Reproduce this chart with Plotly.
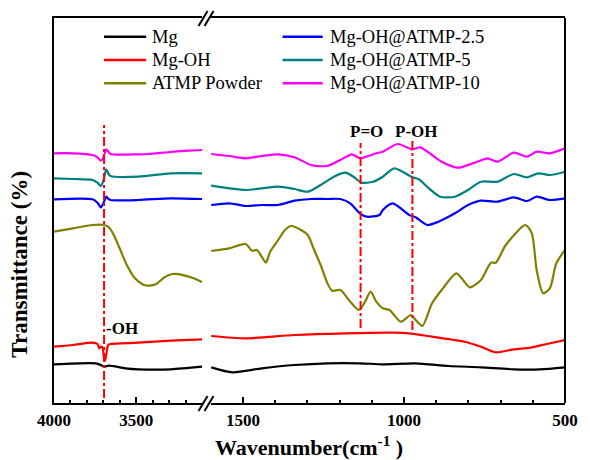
import plotly.graph_objects as go

# ---------------- data (wavenumber, transmittance in arbitrary units) ----------------
black_L_wn = [4000, 3746, 3716, 3696, 3667, 3567, 3488, 3290, 3100]
black_L_T = [38.7, 39.7, 38, 36.3, 37.3, 34.7, 33.7, 33.7, 36.3]
black_R_wn = [1599, 1533, 1442, 1340, 1238, 1137, 1066, 964, 862, 761, 659, 578, 500]
black_R_T = [35.7, 30.7, 34.7, 38, 39.7, 39.7, 38.7, 39.7, 37, 35.7, 33.7, 33.7, 35.7]

red_L_wn = [4000, 3885, 3766, 3736, 3726, 3716, 3706, 3696, 3690, 3683, 3671, 3657, 3488, 3290, 3100]
red_L_T = [56.3, 58, 60.3, 59, 54.7, 56.3, 55.7, 44.7, 42.3, 48, 58, 59, 60.3, 62.3, 63.7]
red_R_wn = [1599, 1492, 1340, 1182, 1035, 984, 913, 812, 761, 715, 659, 608, 557, 500]
red_R_T = [67, 64.7, 68, 69.7, 70.3, 69.7, 66.3, 61.3, 56.3, 50.7, 53.7, 55.3, 59, 63]

olive_L_wn = [4000, 3885, 3766, 3696, 3667, 3637, 3597, 3558, 3508, 3458, 3419, 3379, 3329, 3280, 3210, 3151, 3100]
olive_L_T = [171.3, 174.7, 178, 178, 175.7, 168, 153, 138, 124.7, 118.3, 117.3, 119, 125.7, 129, 127.7, 124.7, 120.7]
olive_R_wn = [1599, 1543, 1492, 1472, 1457, 1442, 1429, 1416, 1391, 1370, 1350, 1320, 1299, 1279, 1259,
              1238, 1223, 1198, 1167, 1140, 1121, 1104, 1086, 1066, 1045, 1010, 979, 964, 943, 913,
              883, 837, 796, 761, 730, 715, 684, 623, 603, 588, 568, 547, 527, 500]
olive_R_T = [152, 154.7, 159, 152.3, 153, 146.3, 140.3, 151.3, 163, 173, 177, 173, 168, 153, 138,
             119.7, 112.3, 113, 101.3, 93, 101.3, 111.3, 101.3, 94.7, 93, 81.3, 88, 83, 77, 99.7,
             113, 129.7, 115.7, 123, 140.3, 140.3, 158, 178, 169.7, 133, 109.7, 114.7, 139.7, 153]

blue_L_wn = [4000, 3766, 3736, 3716, 3702, 3692, 3681, 3671, 3657, 3488, 3290, 3100]
blue_L_T = [203.7, 203.7, 200.3, 195.7, 199, 203, 206.3, 204.3, 203, 203, 204.7, 204]
blue_R_wn = [1599, 1543, 1492, 1442, 1391, 1340, 1289, 1238, 1198, 1167, 1137, 1116, 1076, 1066,
             1035, 984, 964, 928, 893, 842, 801, 761, 710, 659, 618, 588, 547, 500]
blue_R_T = [198, 199.7, 197, 198, 198, 202.3, 204, 204, 204, 199.7, 189.7, 186.3, 188, 193,
            199.7, 188, 185.7, 178, 181.3, 189.7, 198, 202.3, 201.3, 205.7, 202, 206.3, 203, 204.7]

teal_L_wn = [4000, 3885, 3766, 3736, 3716, 3702, 3692, 3683, 3671, 3657, 3488, 3290, 3100]
teal_L_T = [224.7, 224, 223, 220.3, 217, 221.3, 228, 233.7, 229.7, 227, 226.3, 229.7, 229.7]
teal_R_wn = [1599, 1543, 1492, 1442, 1391, 1340, 1299, 1259, 1218, 1182, 1157, 1132, 1096, 1066,
             1030, 974, 954, 923, 888, 842, 801, 761, 710, 659, 618, 583, 547, 500]
teal_R_T = [217.3, 214.7, 213, 214.7, 216.3, 214, 211.3, 218, 226.3, 230.3, 226.3, 220.3, 221.3, 226.3,
            234.7, 225.7, 223.7, 214.7, 206.3, 206.3, 213, 221.3, 221.3, 229, 225.7, 229.7, 228, 231.3]

mag_L_wn = [4000, 3885, 3766, 3736, 3716, 3702, 3692, 3683, 3671, 3657, 3488, 3429, 3290, 3190, 3100]
mag_L_T = [249.7, 249.7, 248, 245.7, 242.3, 244.7, 249.7, 253.7, 251.7, 249, 248.7, 249, 251, 252.3, 253]
mag_R_wn = [1599, 1543, 1492, 1442, 1391, 1340, 1289, 1238, 1198, 1162, 1137, 1086, 1066, 1020,
            974, 949, 913, 883, 832, 781, 740, 710, 659, 618, 588, 547, 500]
mag_R_T = [249, 247, 244.7, 247, 248.7, 245.7, 238, 237, 243, 248.7, 244.7, 249.7, 251.3, 259,
           253.7, 255.7, 248, 241.3, 235.3, 240.3, 244.7, 241.3, 250.3, 246.3, 251.3, 249.7, 254.7]

series_names = ["Mg", "Mg-OH", "ATMP Powder", "Mg-OH@ATMP-2.5", "Mg-OH@ATMP-5", "Mg-OH@ATMP-10"]
series_colors = ["#000000", "#ff0000", "#808000", "#0000ff", "#008080", "#ff00ff"]
series_left = [(black_L_wn, black_L_T), (red_L_wn, red_L_T), (olive_L_wn, olive_L_T),
               (blue_L_wn, blue_L_T), (teal_L_wn, teal_L_T), (mag_L_wn, mag_L_T)]
series_right = [(black_R_wn, black_R_T), (red_R_wn, red_R_T), (olive_R_wn, olive_R_T),
                (blue_R_wn, blue_R_T), (teal_R_wn, teal_R_T), (mag_R_wn, mag_R_T)]

# band markers: (wavenumber, T from, T to)
oh_band = (3696, 5, 278)
po_band = (1135, 75, 260)
poh_band = (974, 73, 265)

left_ticks = [4000, 3500]
right_ticks = [1500, 1000, 500]

FONT = "'Liberation Serif', 'DejaVu Serif', 'Times New Roman', serif"

# ---------------- figure ----------------
W, H = 590, 460
ML, MR, MT, MB = 54, 15, 18, 57
PW, PH = W - ML - MR, H - MT - MB


def px(xp):
    return (xp - ML) / PW


def py(yp):
    return (H - MB - yp) / PH


fig = go.Figure()
for name, color, (lx, ly), (rx, ry) in zip(series_names, series_colors, series_left, series_right):
    fig.add_trace(go.Scatter(x=lx, y=ly, mode="lines", name=name, showlegend=False,
                             line=dict(color=color, width=2.2, shape="spline", smoothing=0.7),
                             xaxis="x", yaxis="y"))
    fig.add_trace(go.Scatter(x=rx, y=ry, mode="lines", name=name, showlegend=False,
                             line=dict(color=color, width=2.2, shape="spline", smoothing=0.7),
                             xaxis="x2", yaxis="y"))

for (wn, t0, t1), xa in [(oh_band, "x"), (po_band, "x2"), (poh_band, "x2")]:
    fig.add_trace(go.Scatter(x=[wn, wn], y=[t0, t1], mode="lines", showlegend=False,
                             line=dict(color="#ff0000", width=2, dash="dashdot"),
                             xaxis=xa, yaxis="y", hoverinfo="skip"))

tickfont = dict(family=FONT, size=17, color="black", weight="bold")
axis_common = dict(showline=True, linewidth=2, linecolor="black", mirror=True,
                   ticks="inside", ticklen=6, tickwidth=2, tickcolor="black",
                   showgrid=False, zeroline=False, tickfont=tickfont,
                   ticklabelstandoff=1,
                   minor=dict(ticks="inside", ticklen=3, tickwidth=2, tickcolor="black",
                              dtick=100, tick0=0, showgrid=False))

fig.update_layout(
    width=W, height=H,
    margin=dict(l=ML, r=MR, t=MT, b=MB),
    paper_bgcolor="white", plot_bgcolor="white",
    showlegend=False,
    font=dict(family=FONT),
    xaxis=dict(domain=[0, 0.29], range=[4000, 3100], tickmode="array",
               tickvals=left_ticks, ticktext=[str(v) for v in left_ticks], anchor="y", **axis_common),
    xaxis2=dict(domain=[0.307, 1], range=[1600, 500], tickmode="array",
                tickvals=right_ticks, ticktext=[str(v) for v in right_ticks], anchor="y", **axis_common),
    yaxis=dict(range=[0, 385], showticklabels=False, ticks="", showline=True, linewidth=2,
               linecolor="black", showgrid=False, zeroline=False),
)

shapes = []
shapes.append(dict(type="line", xref="paper", yref="paper", x0=1, x1=1, y0=0, y1=1,
                   line=dict(color="black", width=2)))
gap_c = (0.29 + 0.307) / 2
for ya in (0, 1):
    for dx in (-8, -2):
        shapes.append(dict(type="line", xref="paper", yref="paper",
                           xsizemode="pixel", ysizemode="pixel",
                           xanchor=gap_c, yanchor=ya,
                           x0=dx, x1=dx + 9, y0=-8, y1=7,
                           line=dict(color="black", width=2)))
leg_rows = [36.7, 60, 83.3]
leg_cols = [(105, 148, 152), (287, 328, 333)]
annotations = []
for i, (name, color) in enumerate(zip(series_names, series_colors)):
    c = leg_cols[i // 3]
    r = leg_rows[i % 3]
    shapes.append(dict(type="line", xref="paper", yref="paper",
                       x0=px(c[0]), x1=px(c[1]), y0=py(r), y1=py(r),
                       line=dict(color=color, width=2.5)))
    annotations.append(dict(x=px(c[2]), y=py(r), xref="paper", yref="paper",
                            text=name, showarrow=False, xanchor="left", yanchor="middle",
                            font=dict(family=FONT, size=18.5, color="black")))

lab_font = dict(family=FONT, size=17, color="black", weight="bold")
annotations += [
    dict(x=3696, y=75, xref="x", yref="y", text="-OH", showarrow=False,
         xanchor="left", yanchor="middle", font=lab_font),
    dict(x=1117, y=272, xref="x2", yref="y", text="P=O", showarrow=False,
         xanchor="center", yanchor="middle", font=lab_font),
    dict(x=962, y=272, xref="x2", yref="y", text="P-OH", showarrow=False,
         xanchor="center", yanchor="middle", font=lab_font),
    dict(x=px(314), y=py(446), xref="paper", yref="paper",
         text="Wavenumber(cm<sup>-1</sup> )", showarrow=False,
         xanchor="center", yanchor="middle",
         font=dict(family=FONT, size=22, color="black", weight="bold")),
    dict(x=px(18), y=py(264), xref="paper", yref="paper",
         text="Transmittance (%)", showarrow=False, textangle=-90,
         xanchor="center", yanchor="middle",
         font=dict(family=FONT, size=23, color="black", weight="bold")),
]
fig.update_layout(shapes=shapes, annotations=annotations)

fig.write_html("out.html")
